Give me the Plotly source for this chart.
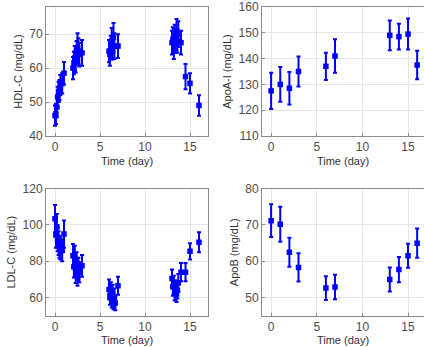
import plotly.graph_objects as go

# ---------------- data ----------------
hdl_t = [0, 0.1, 0.2, 0.3, 0.4, 0.5, 0.6, 0.8, 1.0,
         2.0, 2.1, 2.2, 2.3, 2.4, 2.5, 2.6, 2.7, 3.0,
         6.0, 6.1, 6.2, 6.3, 6.4, 6.5, 6.6, 7.0,
         13.0, 13.1, 13.2, 13.3, 13.4, 13.5, 13.6, 13.7, 14.0,
         14.5, 15.0, 16.0]
hdl_v = [46, 46.5, 48.5, 51.5, 53, 53.5, 55, 55.5, 58.5,
         60, 61.5, 63, 62, 64.5, 66, 65, 64, 64.5,
         65, 64, 66, 68, 66, 69, 66.5, 66.5,
         67.5, 68.5, 66, 69, 68, 70.5, 68, 70, 67.5,
         57.5, 55.5, 49]
hdl_e = [3, 3, 3, 3, 3, 3, 3, 3, 3.3,
         3.3, 3.3, 3.5, 3.3, 3.5, 4.3, 3.8, 3.5, 3.8,
         3.3, 3.3, 3.5, 3.8, 3.5, 4.3, 3.8, 3.5,
         3.5, 3.5, 3.3, 3.8, 3.5, 4, 3.5, 3.8, 3.5,
         3.7, 3, 3]

ldl_t = [0, 0.1, 0.2, 0.3, 0.4, 0.5, 0.6, 0.8, 1.0,
         2.0, 2.1, 2.2, 2.3, 2.4, 2.5, 2.6, 2.7, 3.0,
         6.0, 6.1, 6.2, 6.3, 6.4, 6.5, 6.6, 6.7, 7.0,
         13.0, 13.1, 13.2, 13.3, 13.4, 13.5, 13.6, 13.7, 14.0,
         14.5, 15.0, 16.0]
ldl_v = [103.5, 94.5, 99, 92, 90, 88, 87, 86, 95,
         83, 77, 82, 74, 79, 72, 76, 74, 77.5,
         64.5, 61, 63.5, 59, 62, 58, 60, 57, 66.5,
         70.5, 66, 67, 63, 65, 62, 64, 68, 74,
         74, 85.5, 90.5]
ldl_e = [7.5, 7, 7, 6.5, 6.5, 6, 6, 6, 7.5,
         6.5, 6, 6.5, 6, 6, 5.5, 6, 5.5, 6,
         5.5, 5, 5, 4.5, 5, 4.5, 5, 4, 5,
         5, 5, 5, 4.5, 4.5, 4.5, 4.5, 5, 5,
         5, 4.5, 5.5]

apoa_t = [0, 1, 2, 3, 6, 7, 13, 14, 15, 16]
apoa_v = [127.5, 130, 128.5, 135, 137, 141, 149, 148.5, 149.5, 137.5]
apoa_e = [7, 6.7, 6.3, 5.8, 5.3, 6.5, 5.8, 5, 6, 5.5]

apob_t = [0, 1, 2, 3, 6, 7, 13, 14, 15, 16]
apob_v = [71.2, 70.2, 62.5, 58.3, 52.6, 52.9, 55, 57.7, 61.5, 65]
apob_e = [4.5, 4.8, 4, 3.9, 3.3, 3.4, 3.3, 3.5, 3.3, 4]

x_ticks = [0, 5, 10, 15]
panels = [
    dict(t=hdl_t, v=hdl_v, e=hdl_e, title="HDL-C (mg/dL)", yr=[40, 78], yt=[40, 50, 60, 70]),
    dict(t=apoa_t, v=apoa_v, e=apoa_e, title="ApoA-I (mg/dL)", yr=[110, 160], yt=[110, 120, 130, 140, 150, 160]),
    dict(t=ldl_t, v=ldl_v, e=ldl_e, title="LDL-C (mg/dL)", yr=[50, 120], yt=[60, 80, 100, 120]),
    dict(t=apob_t, v=apob_v, e=apob_e, title="ApoB (mg/dL)", yr=[45, 80], yt=[50, 60, 70, 80]),
]

W, H = 424, 347
xdom = [[46 / W, 208 / W], [262 / W, 1.0]]
xrng = [[-1, 17], [-1, 16.75]]
ydom = [[1 - 136 / H, 1 - 7 / H], [1 - 315.7 / H, 1 - 188.7 / H]]

FONT = "Liberation Sans, Arial"
fig = go.Figure()
BLUE = "#0000FF"
for i, p in enumerate(panels):
    r, c = divmod(i, 2)
    n = i + 1
    xa = "x" if n == 1 else f"x{n}"
    ya = "y" if n == 1 else f"y{n}"
    fig.add_trace(go.Scatter(
        x=p["t"], y=p["v"], mode="markers", xaxis=xa, yaxis=ya,
        marker=dict(symbol="square", size=5.5, color=BLUE),
        error_y=dict(type="data", array=p["e"], visible=True, color=BLUE,
                     thickness=2, width=2),
        showlegend=False,
    ))
    axcommon = dict(showline=True, mirror=True, linecolor="#8c8c8c", linewidth=1,
                    showgrid=True, gridcolor="#e6e6e6", gridwidth=1,
                    ticks="inside", ticklen=3, tickcolor="#8c8c8c",
                    tickfont=dict(family=FONT, size=12, color="#4d4d4d"),
                    zeroline=False, automargin=False)
    fig.layout[("xaxis" if n == 1 else f"xaxis{n}")] = dict(
        domain=xdom[c], range=xrng[c], tickvals=x_ticks, anchor=ya,
        title=dict(text="Time (day)", standoff=3,
                   font=dict(family=FONT, size=11, color="#333333")),
        **axcommon)
    fig.layout[("yaxis" if n == 1 else f"yaxis{n}")] = dict(
        domain=ydom[r], range=p["yr"], tickvals=p["yt"], anchor=xa,
        title=dict(text=p["title"], standoff=4,
                   font=dict(family=FONT, size=11, color="#333333")),
        **axcommon)

fig.update_layout(width=W, height=H, margin=dict(l=0, r=0, t=0, b=0),
                  paper_bgcolor="white", plot_bgcolor="white")
fig.write_html("out.html", config={"displayModeBar": False},
               post_script="document.body.style.margin='0';document.body.style.overflow='hidden';")
